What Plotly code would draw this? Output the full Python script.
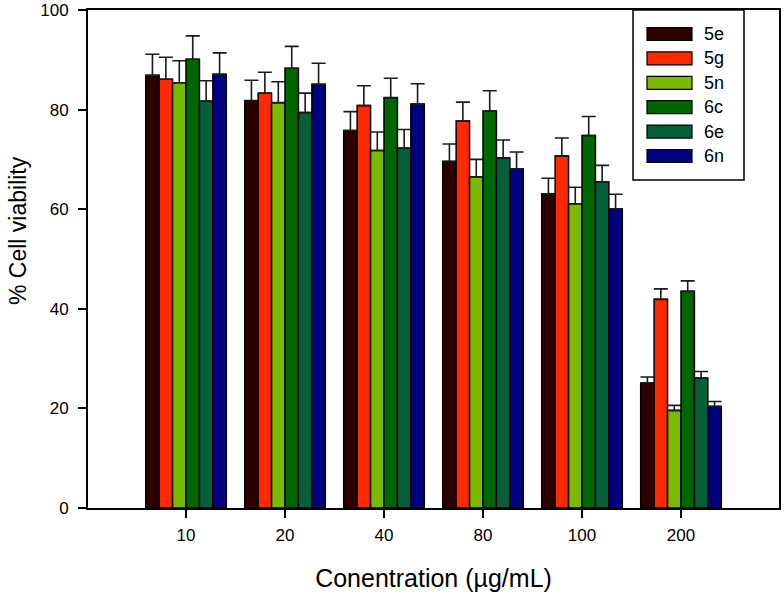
import plotly.graph_objects as go

categories = ["10", "20", "40", "80", "100", "200"]
series_names = ["5e", "5g", "5n", "6c", "6e", "6n"]

v_5e = [86.9, 81.8, 75.8, 69.6, 63.1, 25.1]
v_5g = [86.1, 83.3, 80.8, 77.7, 70.7, 41.9]
v_5n = [85.4, 81.4, 71.8, 66.5, 61.1, 19.6]
v_6c = [90.1, 88.3, 82.4, 79.7, 74.8, 43.5]
v_6e = [81.7, 79.4, 72.3, 70.3, 65.5, 26.1]
v_6n = [87.1, 85.1, 81.1, 68.1, 60.1, 20.4]

e_5e = [4.2, 4.1, 3.8, 3.5, 3.1, 1.2]
e_5g = [4.4, 4.2, 4.0, 3.8, 3.6, 2.1]
e_5n = [4.4, 4.2, 3.7, 3.5, 3.3, 1.0]
e_6c = [4.7, 4.4, 3.9, 4.1, 3.8, 2.1]
e_6e = [4.1, 3.9, 3.7, 3.6, 3.3, 1.3]
e_6n = [4.3, 4.2, 4.1, 3.4, 2.9, 1.0]

values = [v_5e, v_5g, v_5n, v_6c, v_6e, v_6n]
errors = [e_5e, e_5g, e_5n, e_6c, e_6e, e_6n]
colors = ["#2b0000", "#ff2a00", "#7aba00", "#006600", "#05603a", "#000080"]

W, H = 784, 598
ML, MR, MT, MB = 88, 5, 10, 90
PW, PH = W - ML - MR, H - MT - MB


def px_x(p):
    return (p - ML) / PW


def px_y(p):
    return (H - MB - p) / PH


font_family = "Liberation Sans, Arial, sans-serif"

fig = go.Figure()
for name, vals, errs, col in zip(series_names, values, errors, colors):
    fig.add_trace(go.Bar(
        x=categories, y=vals, name=name, showlegend=False,
        marker=dict(color=col, line=dict(color="black", width=1.5)),
        error_y=dict(type="data", array=errs, arrayminus=[0] * len(errs),
                     symmetric=False, color="#1a1a1a", thickness=1.6, width=7),
    ))

# legend box (drawn as layout decoration)
shapes = [dict(type="rect", xref="paper", yref="paper",
               x0=px_x(633), x1=px_x(744), y0=px_y(180), y1=px_y(MT),
               line=dict(color="black", width=1.5), fillcolor="white", layer="above")]
annotations = []
row0, step = 34, 24.4
for i, (name, col) in enumerate(zip(series_names, colors)):
    cy = row0 + i * step
    shapes.append(dict(type="rect", xref="paper", yref="paper",
                       x0=px_x(647), x1=px_x(692), y0=px_y(cy + 6.5), y1=px_y(cy - 6.5),
                       line=dict(color="black", width=1.2), fillcolor=col, layer="above"))
    annotations.append(dict(xref="paper", yref="paper", x=px_x(702), y=px_y(cy),
                            xanchor="left", yanchor="middle", text=name, showarrow=False,
                            font=dict(size=18, family=font_family, color="black")))

# y-axis title (placed like the original, slightly above the axis centre)
annotations.append(dict(xref="paper", yref="paper", x=px_x(18), y=px_y(231),
                        xanchor="center", yanchor="middle", textangle=-90,
                        text="% Cell viability", showarrow=False,
                        font=dict(size=23, family=font_family, color="black")))

fig.update_layout(
    width=W, height=H,
    margin=dict(l=ML, r=MR, t=MT, b=MB),
    paper_bgcolor="white", plot_bgcolor="white",
    barmode="group", bargap=0.186, bargroupgap=0,
    font=dict(family=font_family, color="black"),
    shapes=shapes, annotations=annotations,
    xaxis=dict(
        type="category", range=[-0.99, 5.99], automargin=False,
        showline=True, linecolor="black", linewidth=1.8, mirror=True,
        ticks="outside", ticklen=8, tickwidth=1.5, tickcolor="black",
        tickfont=dict(size=17), showgrid=False, zeroline=False,
        ticklabelstandoff=3,
        title=dict(text="Conentration (µg/mL)", font=dict(size=25), standoff=25),
    ),
    yaxis=dict(
        range=[0, 100], tickvals=[0, 20, 40, 60, 80, 100], automargin=False,
        showline=True, linecolor="black", linewidth=1.8, mirror=True,
        ticks="outside", ticklen=8, tickwidth=1.5, tickcolor="black",
        tickfont=dict(size=17), showgrid=False, zeroline=False,
        ticklabeloverflow="allow", ticklabelstandoff=6,
    ),
)

fig.write_html("out.html", config={"displayModeBar": False},
               post_script="document.body.style.margin='0';")
